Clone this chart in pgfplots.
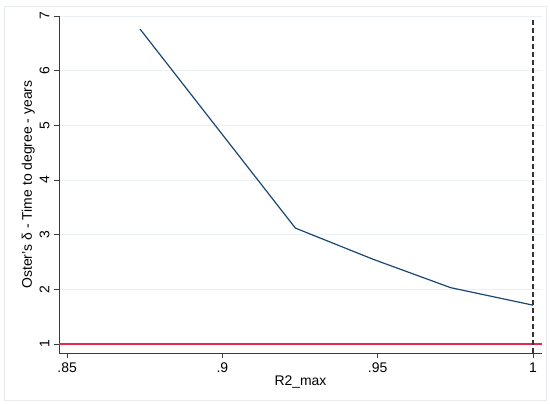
\documentclass[border=0pt]{standalone}
\usepackage{fontspec}
\setmainfont{Liberation Sans}
\usepackage{pgfplots}
\pgfplotsset{compat=1.18}
\usetikzlibrary{calc}
\definecolor{stnavy}{RGB}{26,71,111}
\definecolor{stred}{RGB}{232,40,80}
\definecolor{gridc}{RGB}{234,240,244}
\definecolor{framec}{RGB}{232,236,240}
\definecolor{axc}{RGB}{60,60,60}
\begin{document}
\begin{tikzpicture}
\begin{axis}[
  scale only axis,
  width=483bp, height=337bp,
  xmin=0.8474, xmax=1.0029,
  ymin=0.835, ymax=7,
  axis x line*=bottom, axis y line*=left,
  axis line style={axc, line width=0.9pt, -},
  xtick={0.85,0.9,0.95,1},
  xticklabels={.85,.9,.95,1},
  ytick={1,2,3,4,5,6,7},
  tick align=outside,
  major tick length=5bp,
  tick style={axc, line width=0.9pt},
  ymajorgrids,
  grid style={gridc, line width=0.8pt},
  font=\fontsize{14}{16}\selectfont,
  /pgf/number format/assume math mode=true,
  yticklabel style={rotate=90, anchor=south, yshift=1bp},
  xticklabel style={yshift=-1bp},
  xlabel={R2\_max},
  ylabel={Oster's δ - Time to degree - years},
  xlabel style={yshift=3bp},
  ylabel style={yshift=-2bp},
  clip=false,
]
\addplot[draw=stnavy, line width=1.2pt] coordinates {
  (0.8735,6.76) (0.9235,3.12) (0.9485,2.55) (0.9735,2.03) (1.0,1.71)
};
\addplot[draw=stred, line width=1.4pt] coordinates {(0.8474,1) (1.0029,1)};
\addplot[draw=black!80, line width=1.3pt, dash pattern=on 5bp off 3bp] coordinates {(1,0.835) (1,6.93)};
\end{axis}
\draw[framec, line width=0.6pt] ($(current axis.south west)+(-55bp,-47bp)$) rectangle ($(current axis.north east)+(4bp,10bp)$);
\path[use as bounding box] ($(current axis.south west)+(-59bp,-51bp)$) rectangle ($(current axis.north east)+(8bp,16bp)$);
\end{tikzpicture}
\end{document}
